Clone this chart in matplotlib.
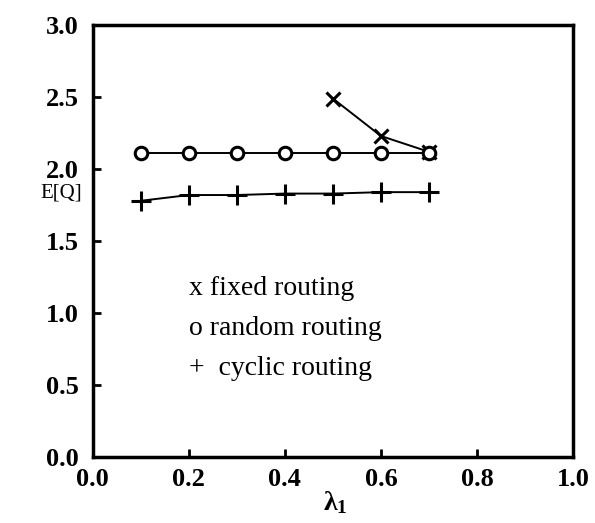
import matplotlib
matplotlib.use("Agg")
import matplotlib.pyplot as plt

# Arrival rate lambda_1 and mean queue length E[Q] for each routing policy
LAMBDA_FIXED = [0.5, 0.6, 0.7]
EQ_FIXED = [2.49, 2.23, 2.12]

LAMBDA_RANDOM = [0.1, 0.2, 0.3, 0.4, 0.5, 0.6, 0.7]
EQ_RANDOM = [2.11, 2.11, 2.11, 2.11, 2.11, 2.11, 2.11]

LAMBDA_CYCLIC = [0.1, 0.2, 0.3, 0.4, 0.5, 0.6, 0.7]
EQ_CYCLIC = [1.78, 1.82, 1.82, 1.83, 1.83, 1.84, 1.84]

LEGEND_LINES = ["x fixed routing", "o random routing", "+  cyclic routing"]

plt.rcParams["font.family"] = "Liberation Serif"
plt.rcParams["mathtext.fontset"] = "custom"
plt.rcParams["mathtext.rm"] = "Liberation Serif:bold"
plt.rcParams["mathtext.it"] = "Liberation Serif:bold"

fig = plt.figure(figsize=(5.95, 5.23), dpi=100)
ax = fig.add_axes([0.156, 0.126, 0.807, 0.826])

# Curves
ax.plot(LAMBDA_FIXED, EQ_FIXED, color="black", linewidth=1.4,
        marker="x", markersize=10, markeredgewidth=2.2)
ax.plot(LAMBDA_RANDOM, EQ_RANDOM, color="black", linewidth=1.4,
        marker="o", markersize=9, markerfacecolor="white",
        markeredgewidth=2.2)
ax.plot(LAMBDA_CYCLIC, EQ_CYCLIC, color="black", linewidth=1.4,
        marker="+", markersize=14, markeredgewidth=2.2)

ax.set_xlim(0.0, 1.0)
ax.set_ylim(0.0, 3.0)
ax.set_xticks([0.0, 0.2, 0.4, 0.6, 0.8, 1.0])
ax.set_yticks([0.0, 0.5, 1.0, 1.5, 2.0, 2.5, 3.0])
ax.set_xticklabels(["%.1f" % v for v in ax.get_xticks()],
                   fontsize=19, fontweight="bold")
ax.set_yticklabels(["%.1f" % v for v in ax.get_yticks()],
                   fontsize=19, fontweight="bold")
ax.tick_params(direction="in", length=6, width=2)
ax.tick_params(axis="x", pad=8)
ax.tick_params(axis="y", pad=10)
for s in ax.spines.values():
    s.set_linewidth(2.5)

ax.set_xlabel(r"$\lambda_1$", fontsize=20)
ax.xaxis.set_label_coords(0.504, -0.075)
ax.set_ylabel("E[Q]", fontsize=15, rotation=0, va="center")
ax.yaxis.set_label_coords(-0.065, 0.612)

# Hand-written legend block
for i, line in enumerate(LEGEND_LINES):
    ax.text(0.2, 0.39 - i * 0.093, line, transform=ax.transAxes,
            fontsize=20, va="center", ha="left")

fig.savefig("out.png", dpi=100)
